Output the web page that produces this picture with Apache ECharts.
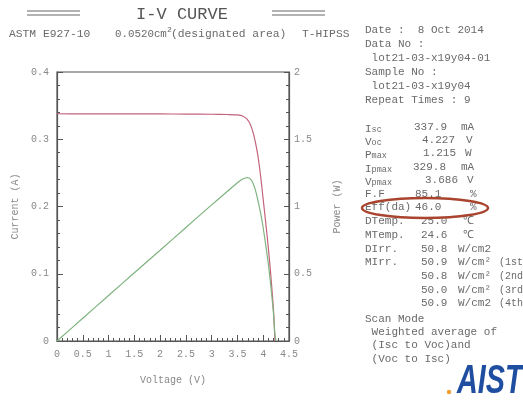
<!DOCTYPE html>
<html><head><meta charset="utf-8">
<script src="https://cdn.jsdelivr.net/npm/echarts@6/dist/echarts.min.js"></script>
<style>html,body{margin:0;padding:0;background:#fff}#c{width:523px;height:400px}</style>
</head><body><div id="c"></div>
<script>
// Data
const ivVoltage = [0, 0.5, 1.0, 1.5, 2.0, 2.5, 3.0, 3.3, 3.5, 3.6, 3.686, 3.75, 3.8, 3.85, 3.9, 3.95, 4.0, 4.05, 4.1, 4.15, 4.2, 4.227];
const ivCurrent = [0.3379, 0.3378, 0.3378, 0.3377, 0.3376, 0.3375, 0.3372, 0.3368, 0.3362, 0.3345, 0.3298, 0.322, 0.311, 0.295, 0.274, 0.245, 0.21, 0.175, 0.138, 0.095, 0.045, 0];
const pvVoltage = [0, 0.5, 1.0, 1.5, 2.0, 2.5, 3.0, 3.3, 3.5, 3.6, 3.686, 3.75, 3.8, 3.85, 3.9, 3.95, 4.0, 4.05, 4.1, 4.15, 4.2, 4.227, 4.25];
const pvPower = [0, 0.169, 0.338, 0.507, 0.675, 0.844, 1.012, 1.111, 1.177, 1.204, 1.215, 1.205, 1.175, 1.12, 1.04, 0.95, 0.84, 0.71, 0.57, 0.40, 0.20, 0.05, 0];

const infoTop = ['Date :  8 Oct 2014', 'Data No :', ' lot21-03-x19y04-01', 'Sample No :', ' lot21-03-x19y04', 'Repeat Times : 9'];
const measLabels = ['{m|I}{s|sc}', '{m|V}{s|oc}', '{m|P}{s|max}', '{m|I}{s|pmax}', '{m|V}{s|pmax}', 'F.F', 'Eff(da)', 'DTemp.', 'MTemp.', 'DIrr.', 'MIrr.', '', '', ''];
const measValues = ['337.9', '4.227', '1.215', '329.8', '3.686', '85.1', '46.0', '25.0', '24.6', '50.8', '50.9', '50.8', '50.0', '50.9'];
const measUnits = ['mA', 'V', 'W', 'mA', 'V', '%', '%', '℃', '℃', 'W/cm2', 'W/cm²', 'W/cm²', 'W/cm²', 'W/cm2'];
const measNotes = ['', '', '', '', '', '', '', '', '', '', '(1st)', '(2nd)', '(3rd)', '(4th)'];
const scanLines = ['Scan Mode', ' Weighted average of', ' (Isc to Voc)and', ' (Voc to Isc)'];

const MONO = '"Liberation Mono", "DejaVu Sans Mono", monospace';
const TXT = '#6a6a6a';

const chart = echarts.init(document.getElementById('c'), null, {renderer: 'canvas'});

const graphics = [];
// title
graphics.push({type: 'text', style: {text: 'I-V CURVE', x: 182, y: 14, font: '17px ' + MONO, fill: '#555', textAlign: 'center', textVerticalAlign: 'middle'}});
[[27, 80], [272, 325]].forEach(([a, b]) => {
  [11, 15].forEach(yy => graphics.push({type: 'line', shape: {x1: a, y1: yy, x2: b, y2: yy}, style: {stroke: '#666', lineWidth: 1.2}}));
});
graphics.push({type: 'text', style: {text: 'ASTM E927-10', x: 9, y: 34, font: '11.3px ' + MONO, fill: TXT, textVerticalAlign: 'middle'}});
graphics.push({type: 'text', style: {text: '0.0520cm', x: 115, y: 34, font: '10.8px ' + MONO, fill: TXT, textVerticalAlign: 'middle'}});
graphics.push({type: 'text', style: {text: '2', x: 167, y: 30, font: '8px ' + MONO, fill: TXT, textVerticalAlign: 'middle'}});
graphics.push({type: 'text', style: {text: '(designated area)', x: 171, y: 34, font: '11.3px ' + MONO, fill: TXT, textVerticalAlign: 'middle'}});
graphics.push({type: 'text', style: {text: 'T-HIPSS', x: 302, y: 34, font: '11.3px ' + MONO, fill: TXT, textVerticalAlign: 'middle'}});

infoTop.forEach((t, i) => {
  graphics.push({type: 'text', style: {text: t, x: 365, y: 30 + i * 14, font: '11px ' + MONO, fill: TXT, textVerticalAlign: 'middle'}});
});
const rowY = [127, 140, 153, 167, 180, 194, 207, 221, 235, 249, 262, 276, 290, 303];
const valX = [414, 422, 423, 413, 425, 415, 415, 421, 421, 421, 421, 421, 421, 421];
const unitX = [461, 466, 465, 461, 467, 470, 470, 463, 463, 458, 458, 458, 458, 458];
measLabels.forEach((t, i) => {
  if (t) graphics.push({type: 'text', style: {text: t, x: 365, y: rowY[i], fill: TXT, textVerticalAlign: 'middle', font: '11px ' + MONO,
    rich: {m: {font: '11px ' + MONO, fill: TXT, verticalAlign: 'bottom'}, s: {font: '8.5px ' + MONO, fill: TXT, padding: [6, 0, 0, 0]}}}});
  graphics.push({type: 'text', style: {text: measValues[i], x: valX[i], y: rowY[i], font: '11px ' + MONO, fill: TXT, textVerticalAlign: 'middle'}});
  graphics.push({type: 'text', style: {text: measUnits[i], x: unitX[i], y: rowY[i], font: '11px ' + MONO, fill: TXT, textVerticalAlign: 'middle'}});
  if (measNotes[i]) graphics.push({type: 'text', style: {text: measNotes[i], x: 499, y: rowY[i], font: '10px ' + MONO, fill: TXT, textVerticalAlign: 'middle'}});
});
scanLines.forEach((t, i) => {
  graphics.push({type: 'text', style: {text: t, x: 365, y: 319 + i * 13.2, font: '11px ' + MONO, fill: TXT, textVerticalAlign: 'middle'}});
});
// highlight ellipse
graphics.push({type: 'ellipse', shape: {cx: 425, cy: 208, rx: 63, ry: 10}, style: {fill: 'none', stroke: '#a9442f', lineWidth: 2.5}});
// logo
graphics.push({type: 'text', x: 457, y: 382, scaleX: 0.72, style: {text: 'AIST', x: 0, y: 0, font: 'italic bold 40px "Liberation Sans", Arial, sans-serif', fill: '#1f4ea1', textVerticalAlign: 'middle'}});
graphics.push({type: 'circle', shape: {cx: 449, cy: 392, r: 2.2}, style: {fill: '#f0a030'}});

const axisLabelStyle = {fontFamily: MONO, fontSize: 10, color: '#888'};
chart.setOption({
  animation: false,
  backgroundColor: '#fff',
  grid: {left: 57, right: 234, top: 72, bottom: 59, show: true, borderColor: '#555', borderWidth: 1.2, backgroundColor: 'transparent'},
  xAxis: {
    type: 'value', min: 0, max: 4.5, interval: 0.5,
    name: 'Voltage (V)', nameLocation: 'middle', nameGap: 34,
    nameTextStyle: {fontFamily: MONO, fontSize: 10, color: '#888'},
    axisLine: {lineStyle: {color: '#555', width: 1.2}},
    axisTick: {inside: true, length: 6, lineStyle: {color: '#555'}},
    minorTick: {show: true, splitNumber: 5, length: 3, lineStyle: {color: '#555'}},
    axisLabel: Object.assign({margin: 8}, axisLabelStyle),
    splitLine: {show: false}
  },
  yAxis: [{
    type: 'value', min: 0, max: 0.4, interval: 0.1,
    name: 'Current (A)', nameLocation: 'middle', nameGap: 37,
    nameTextStyle: {fontFamily: MONO, fontSize: 10, color: '#888'},
    axisLine: {show: true, lineStyle: {color: '#555', width: 1.2}},
    axisTick: {show: true, inside: true, length: 6, lineStyle: {color: '#555'}},
    minorTick: {show: true, splitNumber: 5, length: 3, lineStyle: {color: '#555'}},
    axisLabel: Object.assign({margin: 8}, axisLabelStyle),
    splitLine: {show: false}
  }, {
    type: 'value', min: 0, max: 2, interval: 0.5, position: 'right',
    name: 'Power (W)', nameLocation: 'middle', nameGap: 43, nameRotate: 90,
    nameTextStyle: {fontFamily: MONO, fontSize: 10, color: '#888'},
    axisLine: {show: true, lineStyle: {color: '#555', width: 1.2}},
    axisTick: {show: true, inside: true, length: 5, lineStyle: {color: '#555'}},
    minorTick: {show: true, splitNumber: 5, length: 3, lineStyle: {color: '#555'}},
    axisLabel: Object.assign({margin: 5}, axisLabelStyle),
    splitLine: {show: false}
  }],
  series: [{
    type: 'line', name: 'Current', yAxisIndex: 0, showSymbol: false, smooth: 0.3,
    data: ivVoltage.map((v, i) => [v, ivCurrent[i]]),
    lineStyle: {color: '#c4627c', width: 1.2}, itemStyle: {color: '#c4627c'}
  }, {
    type: 'line', name: 'Power', yAxisIndex: 1, showSymbol: false, smooth: 0.3,
    data: pvVoltage.map((v, i) => [v, pvPower[i]]),
    lineStyle: {color: '#7fb37f', width: 1.2}, itemStyle: {color: '#7fb37f'}
  }],
  graphic: graphics
});
</script></body></html>
